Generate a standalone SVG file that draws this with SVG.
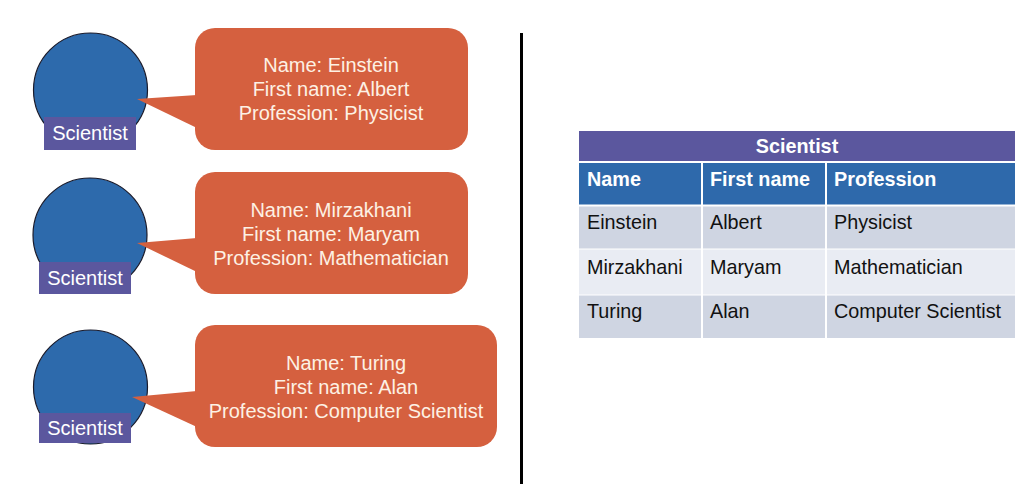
<svg xmlns="http://www.w3.org/2000/svg" width="1019" height="501" viewBox="0 0 1019 501">
<style>
.circ{fill:#2d6aac;stroke:#1a1a2a;stroke-width:1.2}
.lbl{fill:#5b579e}
.lblt{font-family:"Liberation Sans",Arial,sans-serif;font-size:20px;fill:#ffffff;text-anchor:middle}
.bub{fill:#d5603f}
.bubt{font-family:"Liberation Sans",Arial,sans-serif;font-size:20px;fill:#fdf1e4;text-anchor:middle}
.th{font-family:"Liberation Sans",Arial,sans-serif;font-size:19.8px;font-weight:bold;fill:#ffffff}
.td{font-family:"Liberation Sans",Arial,sans-serif;font-size:19.8px;fill:#111111}
</style>
<rect width="1019" height="501" fill="#ffffff"/>
<g id="node-scientist1">
<circle class="circ" cx="90.5" cy="90" r="57"/>
<rect class="lbl" x="44" y="117" width="92" height="33"/>
<text class="lblt" x="90" y="140">Scientist</text>
</g>
<g id="node-bubble1">
<rect class="bub" x="195" y="28" width="273" height="122" rx="20"/>
<polygon class="bub" points="137,99 197,95 197,128"/>
<text class="bubt" x="331" y="72">Name: Einstein</text>
<text class="bubt" x="331" y="96">First name: Albert</text>
<text class="bubt" x="331" y="120">Profession: Physicist</text>
</g>
<g id="node-scientist2">
<circle class="circ" cx="90" cy="235" r="57"/>
<rect class="lbl" x="39" y="262" width="92" height="32"/>
<text class="lblt" x="85" y="285">Scientist</text>
</g>
<g id="node-bubble2">
<rect class="bub" x="195" y="172" width="273" height="122" rx="20"/>
<polygon class="bub" points="137,243 197,238 197,272"/>
<text class="bubt" x="331" y="217">Name: Mirzakhani</text>
<text class="bubt" x="331" y="241">First name: Maryam</text>
<text class="bubt" x="331" y="265">Profession: Mathematician</text>
</g>
<g id="node-scientist3">
<circle class="circ" cx="90.5" cy="387" r="57"/>
<rect class="lbl" x="39" y="413" width="92" height="30"/>
<text class="lblt" x="85" y="435">Scientist</text>
</g>
<g id="node-bubble3">
<rect class="bub" x="195" y="325" width="302" height="122" rx="20"/>
<polygon class="bub" points="132,397 197,391 197,427"/>
<text class="bubt" x="346" y="370">Name: Turing</text>
<text class="bubt" x="346" y="394">First name: Alan</text>
<text class="bubt" x="346" y="418">Profession: Computer Scientist</text>
</g>
<g id="connectors">
<line x1="521.5" y1="33" x2="521.5" y2="484" stroke="#000000" stroke-width="3"/>
</g>
<g id="node-table">
<rect x="579" y="131" width="436" height="30" fill="#5b579e"/>
<text class="th" x="797" y="153" text-anchor="middle">Scientist</text>
<rect x="579" y="163" width="436" height="42" fill="#2e69ab"/>
<rect x="579" y="206" width="436" height="43" fill="#cfd5e2"/>
<rect x="579" y="249" width="436" height="46" fill="#e9ecf3"/>
<rect x="579" y="295" width="436" height="43" fill="#cfd5e2"/>
<line x1="702" y1="163" x2="702" y2="338" stroke="#ffffff" stroke-width="2"/>
<line x1="826" y1="163" x2="826" y2="338" stroke="#ffffff" stroke-width="2"/>
<line x1="579" y1="205.5" x2="1015" y2="205.5" stroke="#ffffff" stroke-width="2"/>
<line x1="579" y1="249" x2="1015" y2="249" stroke="#ffffff" stroke-width="1"/>
<line x1="579" y1="295" x2="1015" y2="295" stroke="#ffffff" stroke-width="1"/>
<text class="th" x="587" y="186">Name</text>
<text class="th" x="710" y="186">First name</text>
<text class="th" x="834" y="186">Profession</text>
<text class="td" x="587" y="229">Einstein</text>
<text class="td" x="710" y="229">Albert</text>
<text class="td" x="834" y="229">Physicist</text>
<text class="td" x="587" y="274">Mirzakhani</text>
<text class="td" x="710" y="274">Maryam</text>
<text class="td" x="834" y="274">Mathematician</text>
<text class="td" x="587" y="318">Turing</text>
<text class="td" x="710" y="318">Alan</text>
<text class="td" x="834" y="318">Computer Scientist</text>
</g>
</svg>
